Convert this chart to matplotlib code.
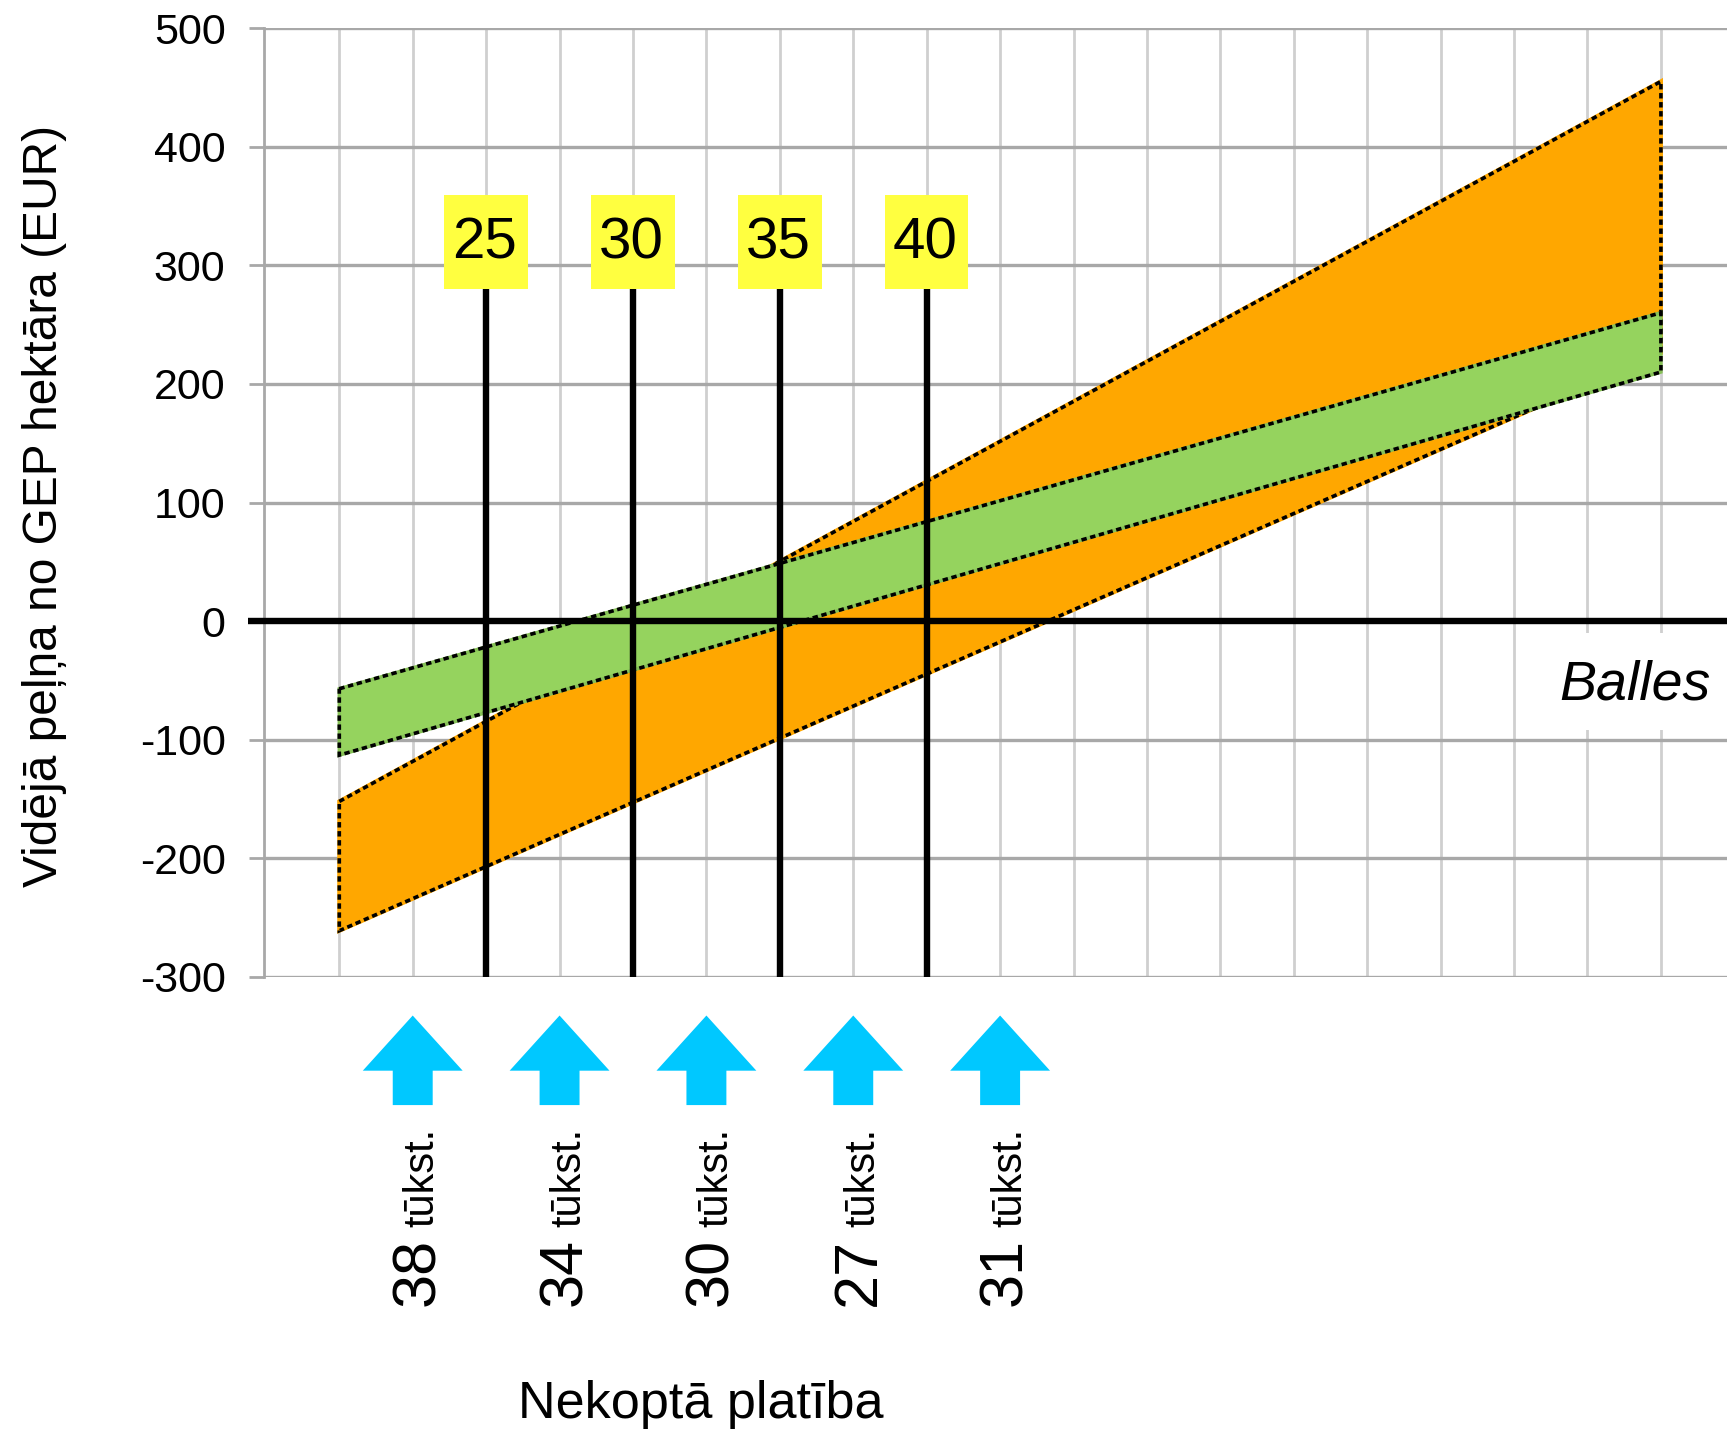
import numpy as np
import matplotlib
matplotlib.use("Agg")
import matplotlib.pyplot as plt
from matplotlib import font_manager as fm
from matplotlib.patches import Polygon, Rectangle

# ---------------- data ----------------
balles_ends = [20, 65]
orange_low = [-261, 226]
orange_high = [-152, 455]
green_low = [-113, 210]
green_high = [-57, 260]

marker_balles = [25, 30, 35, 40]
marker_labels = ["25", "30", "35", "40"]

arrow_x = [22.5, 27.5, 32.5, 37.5, 42.5]
arrow_nums = ["38", "34", "30", "27", "31"]
arrow_unit = "tūkst."

y_ticks = [-300, -200, -100, 0, 100, 200, 300, 400, 500]
x_grid = list(np.arange(20, 65.01, 2.5))

y_label = "Vidējā peļņa no GEP hektāra (EUR)"
x_label = "Nekoptā platība"
axis_note = "Balles"

# ---------------- fonts ----------------
names = {f.name for f in fm.fontManager.ttflist}
NARROW = "Liberation Sans Narrow" if "Liberation Sans Narrow" in names else "Liberation Sans"
REG = "Liberation Sans"
plt.rcParams["axes.unicode_minus"] = False

ORANGE = "#FFA700"
GREEN = "#95D35E"
YELLOW = "#FFFF40"
CYAN = "#00C8FF"

fig = plt.figure(figsize=(17.27, 14.38), dpi=100)
ax = fig.add_axes([0.1531, 0.3206, 0.8469, 0.6599])
ax.set_xlim(17.45, 67.25)
ax.set_ylim(-300, 500)

# grid
ax.set_axisbelow(True)
ax.set_xticks(x_grid)
ax.set_yticks(y_ticks)
ax.xaxis.grid(True, color="#CFCFCF", lw=2.0, zorder=0)
ax.yaxis.grid(True, color="#A8A8A8", lw=2.4, zorder=0)
ax.tick_params(axis="x", length=0, labelbottom=False)
ax.tick_params(axis="y", length=11, width=2, color="#A8A8A8", pad=17,
               labelsize=31)
for lab in ax.get_yticklabels():
    lab.set_fontfamily(NARROW)
for s in ["top", "right", "bottom"]:
    ax.spines[s].set_visible(False)
ax.spines["left"].set_color("#A8A8A8")
ax.spines["left"].set_linewidth(2)

DOT = (0, (1.5, 1.0))
DLW = 2.6

# orange band
opoly = list(zip(balles_ends, orange_high)) + list(zip(balles_ends[::-1], orange_low[::-1]))
ax.add_patch(Polygon(opoly, closed=True, facecolor=ORANGE, edgecolor=ORANGE, lw=3, zorder=2))
ax.add_patch(Polygon(opoly, closed=True, fill=False, edgecolor="black", lw=DLW,
                     linestyle=DOT, zorder=3))
# green band
gpoly = list(zip(balles_ends, green_high)) + list(zip(balles_ends[::-1], green_low[::-1]))
ax.add_patch(Polygon(gpoly, closed=True, facecolor=GREEN, edgecolor="#86C057", lw=2.5, zorder=4))
ax.add_patch(Polygon(gpoly, closed=True, fill=False, edgecolor="black", lw=DLW,
                     linestyle=DOT, zorder=5))

# vertical marker lines + yellow labels
for xb, lab in zip(marker_balles, marker_labels):
    ax.plot([xb, xb], [-300, 280], color="black", lw=4.6, zorder=6,
            solid_capstyle="butt", clip_on=False)
    ax.add_patch(Rectangle((xb - 1.42, 280), 2.84, 79, facecolor=YELLOW,
                           edgecolor="none", zorder=7))
    ax.text(xb - 0.05, 318, lab, ha="center", va="center", fontsize=42,
            family=NARROW, zorder=8)

# zero line
ax.plot([16.9, 67.25], [0, 0], color="black", lw=4.6, zorder=8,
        solid_capstyle="butt", clip_on=False)

# Balles label with white box
ax.add_patch(Rectangle((61.6, -92), 6.0, 82, facecolor="white", edgecolor="none", zorder=9))
ax.text(66.7, -54, axis_note, ha="right", va="center", fontsize=40,
        family=NARROW, style="italic", zorder=10)

# arrows and their labels under the axis
for xa, num in zip(arrow_x, arrow_nums):
    arrow = [(xa - 1.7, -379), (xa, -332.5), (xa + 1.7, -379),
             (xa + 0.68, -379), (xa + 0.68, -408), (xa - 0.68, -408),
             (xa - 0.68, -379)]
    ax.add_patch(Polygon(arrow, closed=True, facecolor=CYAN, edgecolor="none",
                         clip_on=False, zorder=5))
    ax.text(xa + 0.72, -577, num, rotation=90, rotation_mode="anchor",
            ha="left", va="baseline", fontsize=44, family=NARROW, clip_on=False)
    ax.text(xa + 0.72, -511, arrow_unit, rotation=90, rotation_mode="anchor",
            ha="left", va="baseline", fontsize=30, family=REG, clip_on=False)

# axis titles
fig.text(0.026, 0.648, y_label, rotation=90, ha="center", va="center",
         fontsize=34.5, family=NARROW)
fig.text(0.4056, 0.0236, x_label, ha="center", va="center",
         fontsize=37.5, family=NARROW)

fig.savefig("out.png", dpi=100)
